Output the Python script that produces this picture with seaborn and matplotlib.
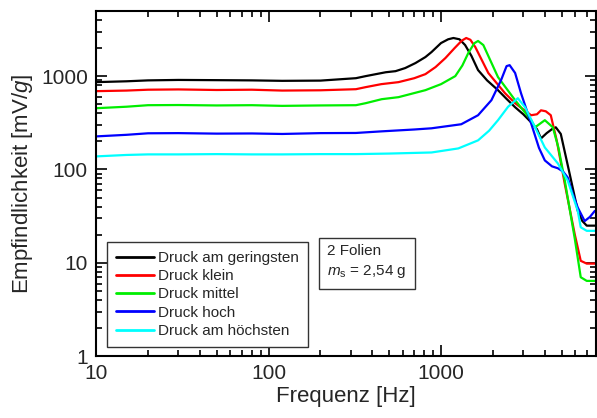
import pandas as pd
import matplotlib
matplotlib.use("Agg")
import matplotlib.pyplot as plt
import seaborn as sns

f_gering = [10, 15, 20, 30, 50, 80, 120, 200, 321, 366, 478, 545, 620, 711, 812, 881, 1000, 1100, 1180,
            1280, 1380, 1500, 1640, 1850, 2140, 2400, 2690, 3000, 3330, 3600, 3800, 4100, 4400, 4630,
            4950, 5500, 6210, 6600, 7000, 7800]
v_gering = [862, 880, 900, 910, 905, 900, 890, 895, 950, 1000, 1100, 1130, 1220, 1380, 1600, 1810, 2260,
            2480, 2560, 2480, 2150, 1650, 1160, 900, 707, 570, 464, 390, 320, 270, 215, 245, 270, 283,
            240, 100, 36, 28, 25, 25]

f_klein = [10, 15, 20, 30, 50, 80, 120, 200, 321, 366, 450, 567, 700, 812, 930, 1060, 1200, 1320, 1400,
           1480, 1580, 1880, 2350, 2690, 3000, 3330, 3600, 3800, 4050, 4330, 4700, 5220, 5970, 6460,
           7000, 7800]
v_klein = [690, 700, 715, 720, 710, 715, 700, 705, 724, 762, 820, 862, 950, 1050, 1250, 1560, 2000, 2400,
           2560, 2450, 2050, 1080, 656, 513, 440, 381, 390, 430, 420, 381, 200, 70, 20, 10.5, 9.8, 9.8]

f_mittel = [10, 15, 20, 30, 50, 80, 120, 200, 321, 366, 453, 567, 812, 1000, 1210, 1330, 1440, 1560,
            1640, 1760, 2140, 2690, 3330, 3510, 4000, 4450, 4800, 5220, 5970, 6460, 7000, 7800]
v_mittel = [453, 470, 488, 490, 485, 488, 480, 485, 488, 513, 566, 595, 707, 820, 1000, 1300, 1770, 2250,
            2380, 2150, 976, 552, 337, 283, 337, 283, 170, 76, 18, 7, 6.4, 6.4]

f_hoch = [10, 15, 20, 30, 50, 80, 120, 200, 321, 453, 700, 881, 1310, 1640, 1960, 2230, 2400, 2500,
          2690, 2910, 3330, 3700, 4000, 4400, 4760, 5100, 5430, 5800, 6210, 6810, 7300, 7800]
v_hoch = [226, 235, 244, 245, 242, 243, 240, 245, 246, 256, 268, 276, 305, 381, 552, 906, 1280, 1310,
          1080, 656, 312, 170, 125, 108, 103, 95, 82, 55, 39, 28, 31, 36]

f_hoechst = [10, 15, 20, 30, 50, 80, 120, 200, 321, 500, 881, 1260, 1640, 1900, 2140, 2450, 2790, 3070,
             3510, 4000, 4760, 5430, 6210, 6460, 7000, 7800]
v_hoechst = [138, 143, 145, 145, 146, 145, 145, 146, 146, 148, 152, 168, 205, 260, 337, 470, 580, 464,
             283, 172, 116, 76, 36, 24, 22, 22]

namen = ["Druck am geringsten", "Druck klein", "Druck mittel", "Druck hoch", "Druck am höchsten"]
farben = ["black", "red", "#00ee00", "blue", "cyan"]

reihen = [(f_gering, v_gering), (f_klein, v_klein), (f_mittel, v_mittel),
          (f_hoch, v_hoch), (f_hoechst, v_hoechst)]
df = pd.concat([pd.DataFrame({"Frequenz": f, "Wert": v, "Reihe": n})
                for (f, v), n in zip(reihen, namen)], ignore_index=True)

sns.set_style("ticks")
plt.rcParams["font.family"] = ["Liberation Sans", "DejaVu Sans"]
plt.rcParams["mathtext.fontset"] = "custom"
plt.rcParams["mathtext.rm"] = "Liberation Sans"
plt.rcParams["mathtext.it"] = "Liberation Sans:italic"

fig = plt.figure(figsize=(5.97, 4.18), dpi=100)
ax = fig.add_axes([0.161, 0.148, 0.837, 0.826])

sns.lineplot(data=df, x="Frequenz", y="Wert", hue="Reihe", palette=dict(zip(namen, farben)),
             estimator=None, sort=False, linewidth=1.6, ax=ax)

ax.set_xscale("log")
ax.set_yscale("log")
ax.set_xlim(10, 7900)
ax.set_ylim(1, 5000)
ax.set_xticks([10, 100, 1000])
ax.set_xticklabels(["10", "100", "1000"])
ax.set_yticks([1, 10, 100, 1000])
ax.set_yticklabels(["1", "10", "100", "1000"])

ax.tick_params(which="both", direction="in", top=True, right=True, labelsize=15, width=1.2, color="black")
ax.tick_params(which="major", length=8, pad=6)
ax.tick_params(which="minor", length=4)
for s in ax.spines.values():
    s.set_linewidth(1.5)
    s.set_color("black")

ax.set_xlabel("Frequenz [Hz]", fontsize=16, labelpad=2)
ax.set_ylabel("Empfindlichkeit [mV/$\\mathit{g}$]", fontsize=16, labelpad=4)

leg = ax.legend(loc="lower left", bbox_to_anchor=(0.022, 0.026), borderaxespad=0, fontsize=11,
                handlelength=2.5, handletextpad=0.25, labelspacing=0.28, borderpad=0.6,
                fancybox=False, framealpha=1, edgecolor="#333333")
leg.get_frame().set_linewidth(1.0)
for l in leg.get_lines():
    l.set_linewidth(2)

ax.text(0.462, 0.325, "2 Folien\n$m_\\mathrm{s}$ = 2,54 g", transform=ax.transAxes, fontsize=11,
        va="top", ha="left", linespacing=1.45,
        bbox=dict(boxstyle="square,pad=0.55", facecolor="white", edgecolor="#333333", linewidth=1.0))

fig.savefig("out.png", dpi=100)
